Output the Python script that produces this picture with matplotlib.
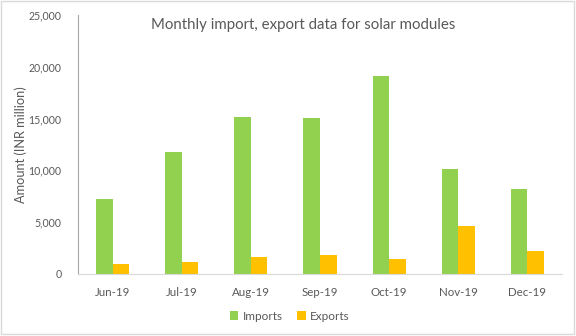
import matplotlib.pyplot as plt
import numpy as np
from matplotlib.patches import Rectangle
from matplotlib.ticker import FuncFormatter

months = ['Jun-19', 'Jul-19', 'Aug-19', 'Sep-19', 'Oct-19', 'Nov-19', 'Dec-19']
imports = [7240, 11780, 15150, 15060, 19120, 10140, 8200]
exports = [970, 1160, 1670, 1830, 1450, 4630, 2220]

GREEN = '#92D050'
YELLOW = '#FFC000'
TEXT = '#595959'

plt.rcParams['font.family'] = ['Lato', 'DejaVu Sans']

fig = plt.figure(figsize=(5.76, 3.36), dpi=100)
ax = fig.add_axes([78 / 576, 1 - 274 / 336, 484 / 576, 259 / 336])

x = np.arange(len(months))
w = 0.24
ax.bar(x - w / 2, imports, width=w, color=GREEN, label='Imports')
ax.bar(x + w / 2, exports, width=w, color=YELLOW, label='Exports')

ax.set_xlim(-0.5, len(months) - 0.5)
ax.set_ylim(0, 25000)
ax.set_yticks(range(0, 25001, 5000))
ax.yaxis.set_major_formatter(FuncFormatter(lambda v, p: f'{int(v):,}'))
ax.set_xticks(x)
ax.set_xticklabels(months)

for s in ['top', 'right']:
    ax.spines[s].set_visible(False)
ax.spines['left'].set_color('#A6A6A6')
ax.spines['bottom'].set_color('#D9D9D9')
ax.tick_params(axis='both', length=0, labelsize=8.3, colors=TEXT)
ax.tick_params(axis='y', pad=12, labelsize=7.6)
ax.tick_params(axis='x', pad=9)

ax.set_ylabel('Amount (INR million)', fontsize=9.2, color=TEXT)
ax.yaxis.set_label_coords((27 - 78) / 484, 0.5)

fig.text(0.526, 1 - 25.5 / 336, 'Monthly import, export data for solar modules',
         ha='center', va='center', fontsize=10.8, color=TEXT)

fig.legend(loc='center', bbox_to_anchor=(290 / 576, 1 - 316 / 336), ncol=2,
           frameon=False, fontsize=8.5, handlelength=0.7, handleheight=0.7,
           handletextpad=0.4, columnspacing=1.2, labelcolor=TEXT)

fig.patches.append(Rectangle((0.001, 0.006), 0.996, 0.99, transform=fig.transFigure,
                             fill=False, edgecolor='#D9D9D9', linewidth=1))

fig.savefig('out.png', dpi=100)
